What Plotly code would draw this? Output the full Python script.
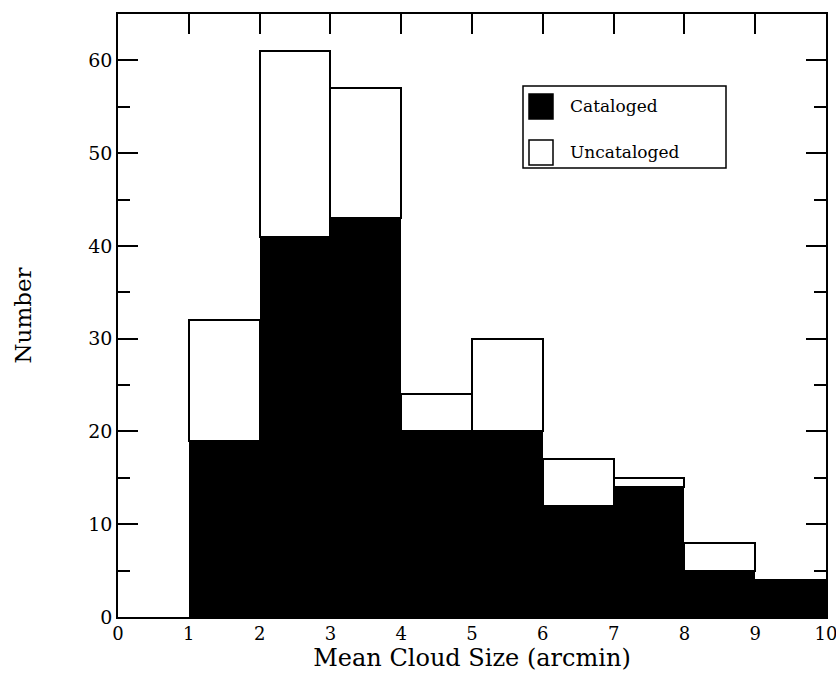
import plotly.graph_objects as go

# Histogram of mean cloud sizes (1-arcmin bins)
bin_left = [1, 2, 3, 4, 5, 6, 7, 8, 9]
total = [32, 61, 57, 24, 30, 17, 15, 8, 4]
cataloged = [19, 41, 43, 20, 20, 12, 14, 5, 4]
uncataloged = [t - c for t, c in zip(total, cataloged)]
x_ticks = list(range(0, 11))
y_ticks = list(range(0, 61, 10))

centers = [b + 0.5 for b in bin_left]

W, H = 836, 677
L, R, T, B = 118, 10, 14, 60
pw, ph = W - L - R, H - T - B


def px(x):
    return (x - L) / pw


def py(y):
    return (H - B - y) / ph


fig = go.Figure()
# filled part: cataloged clouds
fig.add_trace(go.Bar(
    x=centers, y=cataloged, width=1, name="Cataloged",
    marker=dict(color="black", line=dict(color="black", width=0)),
))
# open part on top: uncataloged clouds (drawn on the top-tick axis)
fig.add_trace(go.Bar(
    x=centers, y=uncataloged, base=cataloged, width=1, name="Uncataloged",
    xaxis="x2",
    marker=dict(color="white", line=dict(color="black", width=2)),
))

serif = "DejaVu Serif"
fig.update_layout(
    barmode="overlay",
    bargap=0,
    width=W, height=H,
    margin=dict(l=L, r=R, t=T, b=B, autoexpand=False),
    paper_bgcolor="white", plot_bgcolor="white",
    showlegend=False,
    font=dict(family=serif, color="black"),
)
# bottom axis: labels and frame line only
fig.update_layout(xaxis=dict(
    range=[0, 10], tickvals=x_ticks, ticktext=[str(v) for v in x_ticks],
    automargin=False, ticklabeloverflow="allow",
    showgrid=False, zeroline=False,
    showline=True, linecolor="black", linewidth=1.5, mirror=True,
    ticks="",
    tickfont=dict(family=serif, size=18),
    title=dict(text="Mean Cloud Size (arcmin)", font=dict(family=serif, size=24), standoff=6),
))
# top axis: inward tick marks along the upper frame
fig.update_layout(xaxis2=dict(
    range=[0, 10], tickvals=x_ticks, overlaying="x", side="top", anchor="y",
    automargin=False, showticklabels=False,
    showgrid=False, zeroline=False, showline=False,
    ticks="inside", ticklen=20, tickwidth=1.5, tickcolor="black",
))
fig.update_yaxes(
    range=[0, 65], tickvals=y_ticks,
    automargin=False,
    showgrid=False, zeroline=False,
    showline=True, linecolor="black", linewidth=1.5, mirror="ticks",
    ticks="inside", ticklen=20, tickwidth=1.5, tickcolor="black",
    minor=dict(dtick=5, tick0=0, ticks="inside", ticklen=12, tickwidth=1.5, tickcolor="black"),
    tickfont=dict(family=serif, size=19),
    title=dict(text="Number", font=dict(family=serif, size=23), standoff=50),
)

# Legend box
shapes = [
    dict(type="rect", xref="paper", yref="paper",
         x0=px(523), x1=px(726), y0=py(168), y1=py(86),
         line=dict(color="black", width=1.5), fillcolor="white"),
    dict(type="rect", xref="paper", yref="paper",
         x0=px(529), x1=px(553), y0=py(119), y1=py(94),
         line=dict(color="black", width=1.5), fillcolor="black"),
    dict(type="rect", xref="paper", yref="paper",
         x0=px(529), x1=px(553), y0=py(165), y1=py(140),
         line=dict(color="black", width=1.5), fillcolor="white"),
]
annotations = [
    dict(text="Cataloged", xref="paper", yref="paper", x=px(568), y=py(106),
         xanchor="left", yanchor="middle", showarrow=False,
         font=dict(family=serif, size=17, color="black")),
    dict(text="Uncataloged", xref="paper", yref="paper", x=px(568), y=py(152),
         xanchor="left", yanchor="middle", showarrow=False,
         font=dict(family=serif, size=17, color="black")),
]
fig.update_layout(shapes=shapes, annotations=annotations)

fig.write_html("out.html")
